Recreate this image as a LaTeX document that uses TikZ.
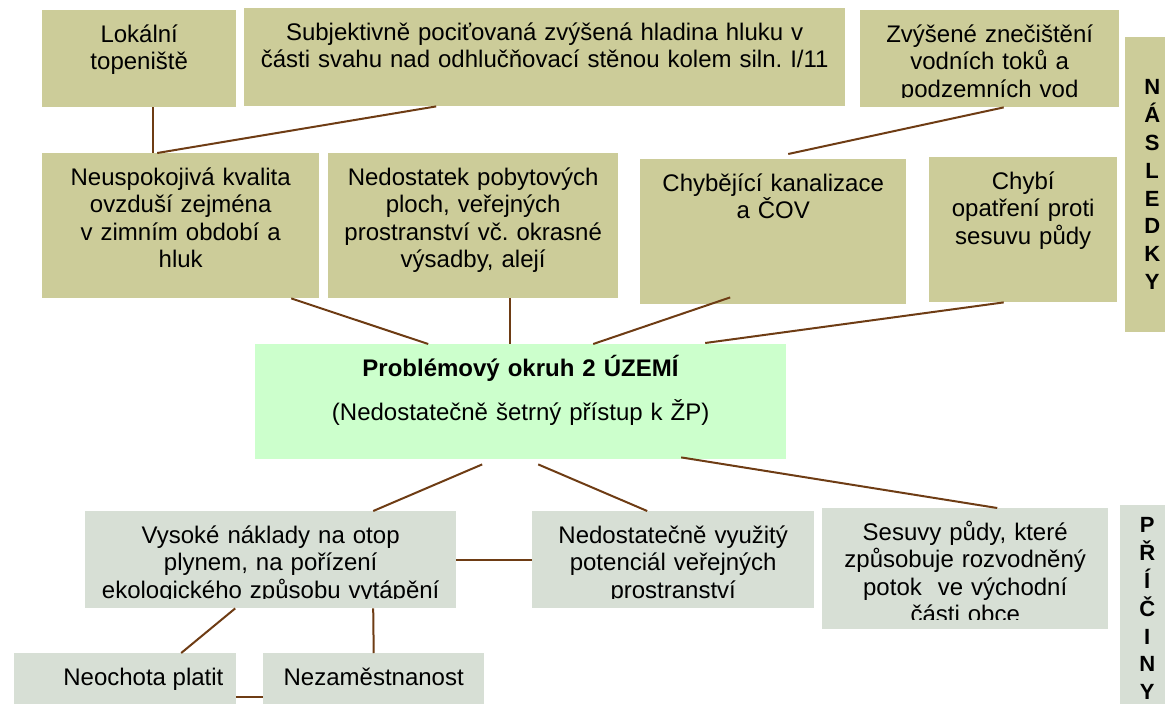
\documentclass[tikz,border=0pt]{standalone}
\usepackage{fontspec}
\setmainfont{Liberation Sans}
\usepackage{tikz}
\usetikzlibrary{positioning}
\frenchspacing

\definecolor{khaki}{RGB}{204,204,153}
\definecolor{sage}{RGB}{215,223,213}
\definecolor{mint}{RGB}{204,255,204}
\definecolor{linebrown}{RGB}{110,60,20}

\begin{document}
\begin{tikzpicture}[x=1pt, y=-1pt,
topbox/.style={rectangle, fill=khaki, anchor=north west, inner sep=0pt},
causebox/.style={rectangle, fill=sage, anchor=north west, inner sep=0pt},
corebox/.style={rectangle, fill=mint, anchor=north west, inner sep=0pt},
boxtext/.style={path picture={
  \clip ([yshift=10pt]path picture bounding box.south west) rectangle (path picture bounding box.north east);
  \node[anchor=base, inner sep=0pt, text width=700pt, align=center, font=\fontsize{24}{27.5}\selectfont] at ([yshift=-32pt]path picture bounding box.north) {#1};}},
lefttext/.style={path picture={
  \node[anchor=base west, inner sep=0pt, font=\fontsize{24}{27.5}\selectfont] at ([xshift=18pt,yshift=-32pt]path picture bounding box.north west) {#1};}},
sidetext/.style={font=\bfseries\fontsize{22}{27.8}\selectfont, align=center},
link/.style={draw=linebrown, line width=2pt}
]
\useasboundingbox (0,0) rectangle (1165,704);

%Nodes (nasledky)
\node[topbox, minimum width=194pt, minimum height=97pt, boxtext={Lokální\\topeniště}] (lok) at (42,10) {};
\node[topbox, minimum width=601pt, minimum height=98pt, boxtext={Subjektivně pociťovaná zvýšená hladina hluku v\\části svahu nad odhlučňovací stěnou kolem siln. I/11}] (subj) at (244,8) {};
\node[topbox, minimum width=259pt, minimum height=97pt, boxtext={Zvýšené znečištění\\vodních toků a\\podzemních vod}] (zvy) at (860,10) {};
\node[topbox, minimum width=54pt, minimum height=295pt, sidetext] (nasl) at (1125,37) {N\\Á\\S\\L\\E\\D\\K\\Y};
\node[topbox, minimum width=277pt, minimum height=145pt, boxtext={Neuspokojivá kvalita\\ovzduší zejména\\v zimním období a\\hluk}] (neu) at (42,153) {};
\node[topbox, minimum width=290pt, minimum height=145pt, boxtext={Nedostatek pobytových\\ploch, veřejných\\prostranství vč. okrasné\\výsadby, alejí}] (ned) at (328,153) {};
\node[topbox, minimum width=266pt, minimum height=145pt, boxtext={Chybějící kanalizace\\a ČOV}] (chyb) at (640,159) {};
\node[topbox, minimum width=188pt, minimum height=145pt, boxtext={Chybí\\opatření proti\\sesuvu půdy}] (chybi) at (929,157) {};

%Core problem
\node[corebox, minimum width=531pt, minimum height=115pt, boxtext={\textbf{Problémový okruh 2 ÚZEMÍ}\\[16.5pt](Nedostatečně šetrný přístup k ŽP)}] (uzemi) at (255,344) {};

%Nodes (priciny)
\node[causebox, minimum width=371pt, minimum height=97pt, boxtext={Vysoké náklady na otop\\plynem, na pořízení\\ekologického způsobu vytápění}] (vys) at (85,511) {};
\node[causebox, minimum width=282pt, minimum height=97pt, boxtext={Nedostatečně využitý\\potenciál veřejných\\prostranství}] (nedv) at (532,511) {};
\node[causebox, minimum width=286pt, minimum height=121pt, boxtext={Sesuvy půdy, které\\způsobuje rozvodněný\\potok\ \ ve východní\\části obce}] (ses) at (822,508) {};
\node[causebox, minimum width=54pt, minimum height=207pt, sidetext] (pric) at (1120,505) {P\\Ř\\Í\\Č\\I\\N\\Y};
\node[causebox, minimum width=222pt, minimum height=67pt, lefttext={Neochota platit}] (neo) at (14,653) {};
\node[causebox, minimum width=221pt, minimum height=67pt, boxtext={Nezaměstnanost}] (nez) at (263,653) {};

%Edges
\draw[link] ([xshift=14pt]lok.south) -- ([xshift=-27.5pt]neu.north);
\draw[link] ([xshift=-108.5pt]subj.south) -- ([xshift=-23.5pt]neu.north);
\draw[link] ([xshift=14pt]zvy.south) -- ([xshift=15pt,yshift=5pt]chyb.north);
\draw[link] ([xshift=110.5pt]neu.south) -- ([xshift=-92.5pt]uzemi.north);
\draw[link] ([xshift=37pt]ned.south) -- ([xshift=-10.5pt]uzemi.north);
\draw[link] ([xshift=-43pt,yshift=7pt]chyb.south) -- ([xshift=72.5pt]uzemi.north);
\draw[link] ([xshift=-19.5pt]chybi.south) -- ([xshift=184.5pt,yshift=1pt]uzemi.north);
\draw[link] ([xshift=-38.5pt,yshift=-5pt]uzemi.south) -- ([xshift=102.5pt]vys.north);
\draw[link] ([xshift=17.5pt,yshift=-5pt]uzemi.south) -- ([xshift=-26pt]nedv.north);
\draw[link] ([xshift=160.5pt,yshift=2pt]uzemi.south) -- ([xshift=32pt]ses.north);
\draw[link] (vys.east) -- (nedv.west);
\draw[link] ([xshift=-35.5pt]vys.south) -- ([xshift=56pt]neo.north);
\draw[link] ([xshift=102.5pt]vys.south) -- (nez.north);
\draw[link] ([yshift=-44pt]neo.north east) -- ([yshift=-44pt]nez.north west);

\end{tikzpicture}
\end{document}
